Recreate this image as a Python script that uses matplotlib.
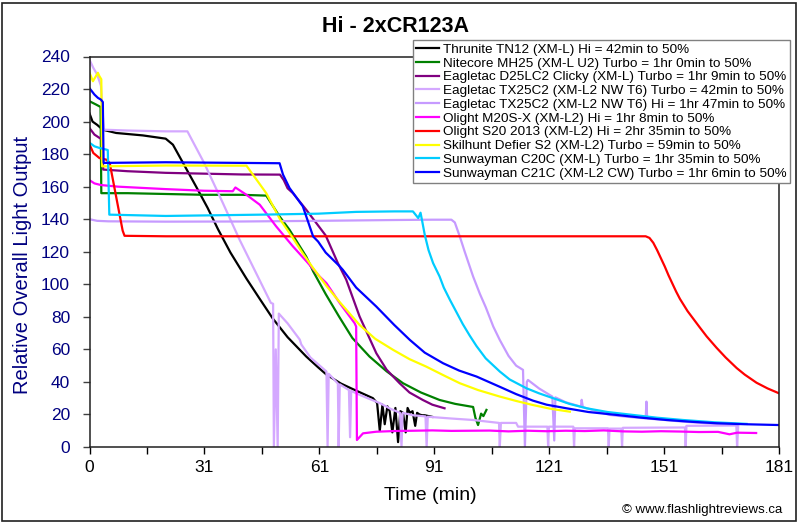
import numpy as np
import matplotlib
matplotlib.use("Agg")
import matplotlib.pyplot as plt
from matplotlib.patches import Rectangle

plt.rcParams['font.family'] = ['Liberation Sans', 'DejaVu Sans']

# ---------------- data (time in minutes, relative output) ----------------
labels = [
    "Thrunite TN12 (XM-L) Hi = 42min to 50%",
    "Nitecore MH25 (XM-L U2) Turbo = 1hr 0min to 50%",
    "Eagletac D25LC2 Clicky (XM-L) Turbo = 1hr 9min to 50%",
    "Eagletac TX25C2 (XM-L2 NW T6) Turbo = 42min to 50%",
    "Eagletac TX25C2 (XM-L2 NW T6) Hi = 1hr 47min to 50%",
    "Olight M20S-X (XM-L2) Hi = 1hr 8min to 50%",
    "Olight S20 2013 (XM-L2) Hi = 2hr 35min to 50%",
    "Skilhunt Defier S2 (XM-L2) Turbo = 59min to 50%",
    "Sunwayman C20C (XM-L) Turbo = 1hr 35min to 50%",
    "Sunwayman C21C (XM-L2 CW) Turbo = 1hr 6min to 50%",
]
colors = ['#000000', '#008000', '#800080', '#D4A8FF', '#C69AFF',
          '#FF00FF', '#FF0000', '#FFFF00', '#00CCFF', '#0000FF']

tn12_x = [0, 0.8, 2, 3.5, 7, 14, 20, 21.9, 24.1, 28, 31, 33.7, 37, 41.2, 44.7, 48.1, 52, 56.9, 60, 62.2, 66, 69.2,
          74.4, 75.5, 76.2, 76.9, 77.5, 78.2, 78.8, 79.5, 80.3, 81.0, 81.6, 82.3, 83.0, 83.5, 84.1, 84.8, 85.5,
          86.0, 86.6, 87.3, 88.0, 89.0, 90.0]
tn12_y = [205, 200, 198, 195, 193, 191.5, 189.5, 185.8, 176.5, 160, 147, 134, 119.5, 103.5, 91, 79, 67.5, 55.6, 49,
          44.5, 39, 35.5, 30, 27, 10, 26, 14, 25, 22, 9, 24, 3, 22, 21, 9, 24, 21, 22, 13,
          21, 20, 19.5, 19.5, 19, 18.5]

mh25_x = [0, 1.7, 2.9, 3.1, 10, 20, 30, 40, 46.4, 49.9, 52.5, 56.9, 58.7, 62, 65.5, 69, 73.5, 78, 82.3, 87, 91.9,
          96, 100.7, 101.3, 102, 102.8, 103.4, 104.2]
mh25_y = [212.5, 210.5, 209, 156, 156, 155.5, 155, 155, 154.5, 141.7, 133.5, 117, 108, 94, 80.2, 67, 55.6, 46.5,
          39.2, 33.5, 28.9, 26.5, 24.6, 18, 13.5, 20.5, 19, 22.8]

d25_x = [0, 1.3, 2.6, 3.3, 3.6, 10, 20, 30, 40, 50, 51, 52, 53.4, 56.9, 62, 65.2, 67.4, 70.9, 75.3, 78, 81.4,
         84, 87.5, 90, 93.2]
d25_y = [196, 192, 190, 189, 170.5, 169.5, 168.5, 168, 167.5, 167.4, 164, 159, 156, 145.8, 130, 113, 102.8, 80.2,
         57.6, 47.5, 39.2, 33.5, 28.9, 26, 23.8]

tx25t_x = [0, 1, 2, 3, 3.3, 3.8, 10, 20, 25.7, 30, 35, 39.4, 44.6, 47.6, 48.2, 48.4, 48.9, 49.4, 49.7, 52, 55.2,
           55.6, 58, 62.2, 62.5, 62.8, 65.2, 65.4, 65.7, 68.1, 68.4, 68.7, 70, 73, 76.2, 79, 81.5, 81.9, 82.2,
           85, 88.2, 88.5, 88.8, 95, 100.7, 107.5, 107.7, 108, 112, 112.5, 120.2, 120.4, 120.6, 127, 127.2, 127.4,
           136.1, 136.3, 136.5, 139.6, 139.8, 140, 156.3, 156.5, 156.7, 169.8, 170, 170.3]
tx25t_y = [238, 233, 229, 222, 210, 195, 194.5, 194, 194, 175, 150, 127.4, 102.8, 88.6, 88, 0, 60, 0, 82, 76, 66,
           63, 55, 46.4, 0, 45, 39, 0, 38.5, 35, 6, 34.5, 33, 30, 27, 23.5, 21, 0, 21,
           19.5, 18.8, 0, 18.6, 17.5, 16.6, 14.8, 0, 14.8, 14.8, 12.5, 12.5, 0, 12.5, 12.5, 0, 11.5,
           11.5, 0, 11.3, 11.3, 0, 11.8, 12, 0, 13, 13.2, 0, 13.2]

tx25h_x = [0, 2, 5, 20, 40, 60, 80, 90, 95, 95.9, 97.2, 98.5, 100.7, 102.5, 104, 106, 107.7, 110, 112, 113.8,
           114.3, 114.8, 115.1, 118, 121.5, 122.0, 122.3, 125, 129, 129.2, 129.5, 133, 136.6, 141, 146, 146.2,
           146.4, 150, 155.8, 162, 169.9]
tx25h_y = [140, 139, 138.7, 138.5, 138.6, 139, 139.5, 139.7, 139.7, 138, 129.4, 120, 104.8, 94, 86, 74, 65.8, 56,
           50, 47.4, 0, 40, 41.2, 36, 31, 4, 30.5, 27.5, 24.8, 29, 24.6, 22, 19.7, 18.6, 17.6, 27.9,
           17.5, 16.8, 15.6, 14.6, 13.5]

m20_x = [0, 1.3, 3, 7.5, 20, 30, 37.6, 38.3, 41.2, 44.7, 49, 53.4, 57, 60.4, 62.2, 65.7, 69.6, 70.0, 70.2, 71.8,
         75.3, 80, 85, 90, 95, 100, 105, 110, 115, 120, 125, 130, 135, 140, 145, 150, 155, 160, 165, 168, 170, 175]
m20_y = [164, 162, 161, 160, 158.5, 157.5, 157.2, 159.5, 155, 148.9, 135.6, 123.3, 114, 104.8, 100.7, 88.4, 76.1,
         74, 4.3, 8.4, 9.4, 9.8, 10, 10.2, 9.9, 10, 10.1, 9.6, 10, 9.7, 10, 9.8, 10.2, 9.6, 9.4, 9.7, 9.5, 9.2,
         9.3, 7.8, 8.8, 8.6]

s20_x = [0, 1, 2.6, 4.4, 5.3, 8.7, 9.2, 20, 50, 100, 146, 147, 148, 149, 150, 151, 152, 153, 154, 155, 157, 160.2,
         162, 164.6, 167, 169.9, 172, 175.1, 178, 181]
s20_y = [186, 180.7, 177.6, 176.6, 174.6, 133, 129.8, 129.5, 129.5, 129.5, 129.5, 128.5, 125.5, 121, 116, 111,
         105.5, 100.5, 95.5, 91, 83.5, 73.5, 68, 61, 55, 48.5, 44.5, 39.5, 36, 33]

s2_x = [0, 0.9, 2.2, 2.6, 3.1, 3.3, 4, 20, 41.2, 46.4, 47.3, 50, 53.4, 56, 58.7, 62.2, 65.7, 70.9, 75, 79.7, 84,
        88.4, 93, 97.2, 102, 107.7, 112, 116.4, 121, 126.1]
s2_y = [230, 224.8, 230, 227.9, 226, 172.5, 172.5, 173, 172.9, 156, 152, 140, 128.4, 119, 110, 99, 89, 75, 66.5,
        59.7, 54, 49.4, 44, 39.2, 35, 31, 28.3, 25.8, 23.5, 21.7]

c20_x = [0, 1.3, 2.6, 4.4, 4.8, 5.2, 20, 45, 60, 70, 80, 84.9, 86.3, 86.9, 87.4, 88, 89, 90.2, 91.9, 93, 94.6,
         96.3, 98, 99.8, 101.6, 104, 107.7, 110.3, 114.7, 118, 121.7, 126, 130.5, 136, 142.7, 149, 155.8, 164,
         172.5]
c20_y = [187, 184.8, 183.8, 182.8, 182.5, 142.8, 142, 142.8, 143.4, 144.5, 144.8, 144.8, 140.7, 144, 138, 130.5,
         121, 113, 104.8, 98, 90.5, 83, 75.5, 68.5, 62, 54.5, 46.4, 41.5, 36.1, 33, 30, 26.5, 23.8, 21.5, 19.7,
         18, 16.6, 15.2, 14.2]

c21_x = [0, 1.3, 2.2, 3.0, 3.5, 3.7, 20, 40, 49.9, 50.8, 52.5, 56, 58.7, 60, 62, 65.7, 66.5, 70, 75.3, 80, 84.1,
         88, 92.8, 97, 101.6, 107.7, 112, 116.4, 120, 125.2, 131, 138.4, 145, 151.5, 158, 164.6, 172, 181]
c21_y = [220.5, 216.6, 214.6, 213.5, 212, 174.6, 175, 174.6, 174.4, 167.4, 159.2, 147.9, 129.4, 126.3, 119.5, 111,
         108.9, 98, 86.3, 75, 65.8, 58, 51.5, 47, 43.3, 37, 32.5, 28.5, 26, 23.8, 21.5, 19.7, 18, 16.6, 15.5,
         14.6, 14, 13.5]

series_x = [tn12_x, mh25_x, d25_x, tx25t_x, tx25h_x, m20_x, s20_x, s2_x, c20_x, c21_x]
series_y = [tn12_y, mh25_y, d25_y, tx25t_y, tx25h_y, m20_y, s20_y, s2_y, c20_y, c21_y]

x_tick_labels = ['0', '31', '61', '91', '121', '151', '181']
y_ticks = list(range(0, 241, 20))

# ---------------- figure ----------------
W, H = 800, 524
fig = plt.figure(figsize=(W / 100, H / 100), dpi=100)
fig.patch.set_facecolor('white')

ax = fig.add_axes([89.5 / W, 1 - 447 / H, (779 - 89.5) / W, (447 - 56.5) / H])

handles = []
for xs, ys, c, lab in zip(series_x, series_y, colors, labels):
    ln, = ax.plot(xs, ys, color=c, lw=1.6, label=lab, solid_joinstyle='round')
    handles.append(ln)

ax.set_xlim(0, 181)
ax.set_ylim(0, 240)
xt = np.linspace(0, 181, 7)
ax.set_xticks(xt)
ax.set_xticklabels(x_tick_labels)
ax.set_xticks((xt[:-1] + xt[1:]) / 2, minor=True)
ax.set_yticks(y_ticks)
ax.tick_params(axis='x', which='both', direction='out', length=5, width=1, labelsize=12.5, pad=4, colors='black')
ax.tick_params(axis='y', which='major', direction='out', length=5, width=1, labelsize=12.5, pad=9,
               labelcolor='#000080', color='#404040')
for s in ax.spines.values():
    s.set_color('#202020')
    s.set_linewidth(1.1)

# text
fig.text(395 / W, 1 - 27 / H, 'Hi - 2xCR123A', ha='center', va='center', fontsize=15.5, fontweight='bold')
fig.text(23 / W, 1 - 265 / H, 'Relative Overall Light Output', rotation=90, ha='center', va='center',
         fontsize=14.5, color='#000080')
fig.text(430 / W, 1 - 496 / H, 'Time (min)', ha='center', va='center', fontsize=14)
fig.text(782 / W, 1 - 510 / H, '\u00a9 www.flashlightreviews.ca', ha='right', va='center', fontsize=9.5)

leg = fig.legend(handles, labels, loc='upper left', bbox_to_anchor=(413 / W, 1 - 40 / H),
                 frameon=True, fancybox=False, edgecolor='#808080', framealpha=1, borderaxespad=0,
                 handlelength=1.65, handletextpad=0.3, labelspacing=0.1, borderpad=0.25, fontsize=9.7)
leg.get_frame().set_linewidth(1.0)

# outer chart border
fig.add_artist(Rectangle((2 / W, 3 / H), (794 / W), (518 / H), transform=fig.transFigure,
                         fill=False, edgecolor='#202020', lw=1.2))

fig.savefig('out.png', dpi=100)
